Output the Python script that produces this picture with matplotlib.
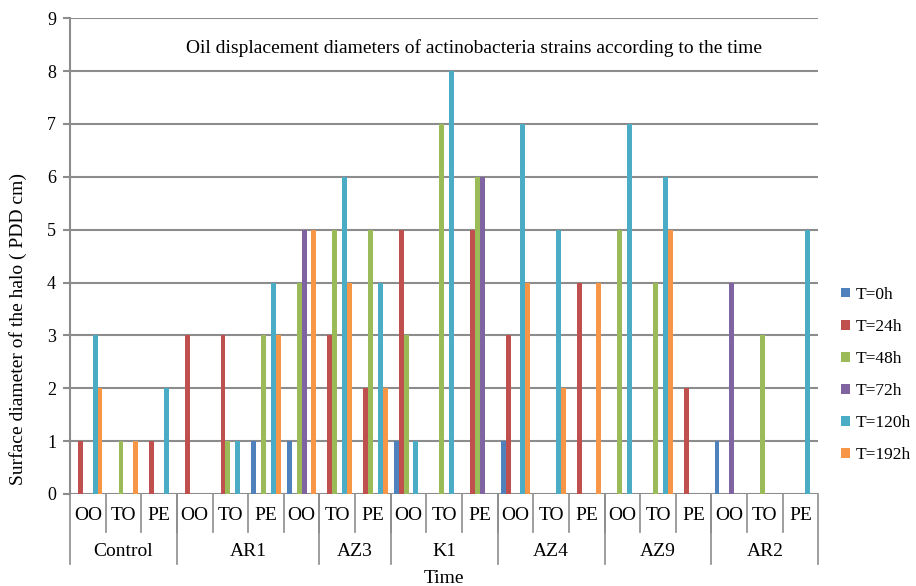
import numpy as np
import matplotlib
matplotlib.use('Agg')
import matplotlib.pyplot as plt
from matplotlib.patches import Patch
from matplotlib.transforms import blended_transform_factory

plt.rcParams['font.family'] = ['Liberation Serif', 'DejaVu Serif']

# oil type under each cluster, and strain groups (name, number of clusters)
oils = ['OO', 'TO', 'PE', 'OO', 'TO', 'PE', 'OO', 'TO', 'PE', 'OO', 'TO',
        'PE', 'OO', 'TO', 'PE', 'OO', 'TO', 'PE', 'OO', 'TO', 'PE']
groups = ['Control', 'AR1', 'AZ3', 'K1', 'AZ4', 'AZ9', 'AR2']
group_sizes = [3, 4, 2, 3, 3, 3, 3]

series_names = ['T=0h', 'T=24h', 'T=48h', 'T=72h', 'T=120h', 'T=192h']
t0 = [0, 0, 0, 0, 0, 1, 1, 0, 0, 1, 0, 0, 1, 0, 0, 0, 0, 0, 1, 0, 0]
t24 = [1, 0, 1, 3, 3, 0, 0, 3, 2, 5, 0, 5, 3, 0, 4, 0, 0, 2, 0, 0, 0]
t48 = [0, 1, 0, 0, 1, 3, 4, 5, 5, 3, 7, 6, 0, 0, 0, 5, 4, 0, 0, 3, 0]
t72 = [0, 0, 0, 0, 0, 0, 5, 0, 0, 0, 0, 6, 0, 0, 0, 0, 0, 0, 4, 0, 0]
t120 = [3, 0, 2, 0, 1, 4, 0, 6, 4, 1, 8, 0, 7, 5, 0, 7, 6, 0, 0, 0, 5]
t192 = [2, 1, 0, 0, 0, 3, 5, 4, 2, 0, 0, 0, 4, 2, 4, 0, 5, 0, 0, 0, 0]
series = [t0, t24, t48, t72, t120, t192]

colors = ['#4F81BD', '#C0504D', '#9BBB59', '#8064A2', '#4BACC6', '#F79646']
grid_c = '#8C8C8C'

fig = plt.figure(figsize=(9.16, 5.86), dpi=100)
ax = fig.add_axes([0.0764, 0.157, 0.817, 0.812])

x = np.arange(len(oils))
w = 1.0 / 7.3
for i, (vals, c) in enumerate(zip(series, colors)):
    ax.bar(x + (i - 2.5) * w, vals, width=w, color=c, zorder=3, linewidth=0)

ax.set_xlim(-0.5, len(oils) - 0.5)
ax.set_ylim(0, 9)
ax.set_yticks(range(0, 10))
ax.tick_params(axis='y', labelsize=13, length=5, color=grid_c, width=1.5, pad=5)
ax.tick_params(axis='x', bottom=False, labelbottom=False)
ax.grid(axis='y', color=grid_c, linewidth=1.5, zorder=0)
for s in ['top', 'right', 'bottom']:
    ax.spines[s].set_visible(False)
ax.spines['left'].set_color(grid_c)
ax.spines['left'].set_linewidth(1.5)

# two-row category axis
tr = blended_transform_factory(ax.transData, ax.transAxes)
for xi, lab in zip(x, oils):
    ax.text(xi, -0.045, lab, transform=tr, ha='center', va='center', fontsize=14)
for b in np.arange(0.5, len(oils) - 1, 1.0):
    ax.plot([b, b], [0, -0.08], transform=tr, color=grid_c, lw=1.2, clip_on=False)
edges = np.concatenate([[0], np.cumsum(group_sizes)]) - 0.5
for e in edges:
    ax.plot([e, e], [0, -0.147], transform=tr, color=grid_c, lw=1.2, clip_on=False)
for g, a, b in zip(groups, edges[:-1], edges[1:]):
    ax.text((a + b) / 2, -0.12, g, transform=tr, ha='center', va='center', fontsize=14)

ax.text(0.5, -0.177, 'Time', transform=ax.transAxes, ha='center', va='center', fontsize=14)
fig.text(0.0197, 0.172, 'Surface diameter of the halo ( PDD cm)', rotation=90,
         ha='center', va='bottom', fontsize=14)

tt = blended_transform_factory(ax.transAxes, ax.transData)
ax.text(0.54, 8.43, 'Oil displacement diameters of actinobacteria strains according to the time',
        ha='center', va='center', fontsize=14, transform=tt)

handles = [Patch(facecolor=c, label=n) for c, n in zip(colors, series_names)]
ax.legend(handles=handles, loc='center left', bbox_to_anchor=(1.01, 0.25), frameon=False,
          fontsize=12.5, handlelength=0.5, handleheight=0.5, handletextpad=0.3,
          labelspacing=0.93)

fig.savefig('out.png', dpi=100)
